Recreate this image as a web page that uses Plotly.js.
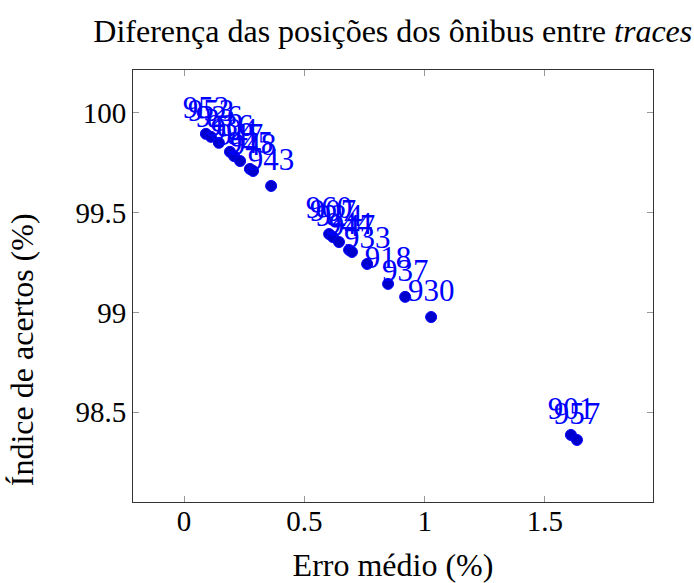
<!DOCTYPE html>
<html>
<head>
<meta charset="utf-8">
<script src="https://cdn.plot.ly/plotly-3.0.1.min.js"></script>
<style>html,body{margin:0;padding:0;background:#fff;}</style>
</head>
<body>
<div id="chart" style="width:694px;height:583px;"></div>
<script>
const erroMedio = [0.091, 0.112, 0.145, 0.191, 0.208, 0.233, 0.274, 0.287, 0.362,
                   0.603, 0.619, 0.644, 0.686, 0.698, 0.761, 0.848, 0.919, 1.027,
                   1.608, 1.633];
const indiceAcertos = [99.895, 99.880, 99.850, 99.805, 99.784, 99.759, 99.719, 99.709, 99.634,
                       99.393, 99.378, 99.353, 99.313, 99.303, 99.243, 99.143, 99.078, 98.977,
                       98.386, 98.361];
const linhas = ["952", "953", "926", "936", "904", "947", "945", "948", "943",
                "960", "907", "924", "944", "947", "933", "918", "937", "930",
                "901", "957"];
const xTicks = [0, 0.5, 1, 1.5];
const xTickLabels = ["0", "0.5", "1", "1.5"];
const yTicks = [98.5, 99, 99.5, 100];
const yTickLabels = ["98.5", "99", "99.5", "100"];

const font = "Liberation Serif, Times New Roman, serif";

const trace = {
  x: erroMedio,
  y: indiceAcertos,
  text: linhas,
  mode: "markers+text",
  type: "scatter",
  textposition: "top center",
  textfont: {family: font, size: 31, color: "#0000ff"},
  marker: {size: 11, color: "#0000cc", line: {color: "#0000ff", width: 1}},
  cliponaxis: false,
  hoverinfo: "x+y+text"
};

const axisCommon = {
  showgrid: false,
  zeroline: false,
  showline: true,
  linecolor: "#333",
  linewidth: 1,
  mirror: "ticks",
  ticks: "inside",
  ticklen: 6,
  tickcolor: "#999",
  tickwidth: 1,
  tickfont: {family: font, size: 29, color: "#000"}
};

const layout = {
  width: 694,
  height: 583,
  margin: {l: 133, r: 41, t: 70, b: 81},
  paper_bgcolor: "#fff",
  plot_bgcolor: "#fff",
  showlegend: false,
  title: {
    text: "Diferença das posições dos ônibus entre <i>traces</i>",
    font: {family: font, size: 32, color: "#000"},
    x: 0.566, xanchor: "center",
    y: 0.948, yanchor: "middle"
  },
  xaxis: Object.assign({}, axisCommon, {
    range: [-0.212, 1.949],
    tickvals: xTicks,
    ticktext: xTickLabels,
    ticklabelstandoff: -7,
    title: {text: "Erro médio (%)", font: {family: font, size: 32, color: "#000"}, standoff: 20}
  }),
  yaxis: Object.assign({}, axisCommon, {
    range: [98.05, 100.215],
    tickvals: yTicks,
    ticktext: yTickLabels
  }),
  annotations: [{
    text: "Índice de acertos (%)",
    xref: "paper", yref: "paper",
    x: -0.213, y: 0.352,
    xanchor: "center", yanchor: "middle",
    textangle: -90,
    showarrow: false,
    font: {family: font, size: 32, color: "#000"}
  }]
};

Plotly.newPlot("chart", [trace], layout, {displayModeBar: false, staticPlot: true});
</script>
</body>
</html>
